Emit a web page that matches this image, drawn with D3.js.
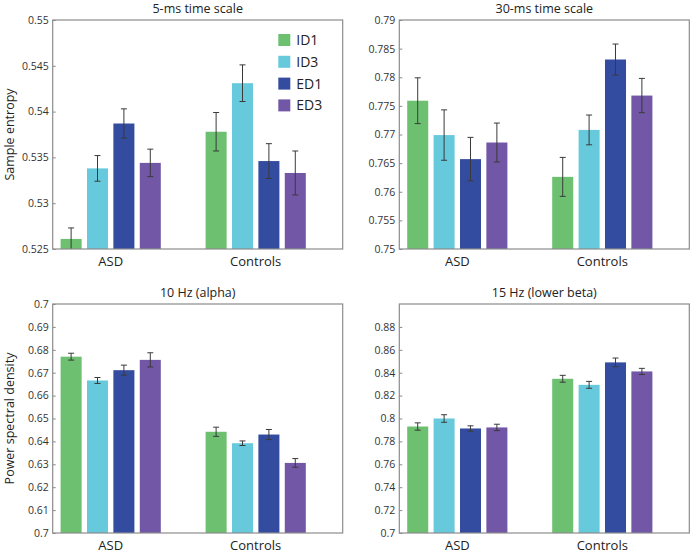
<!DOCTYPE html>
<html><head><meta charset="utf-8">
<script src="https://cdn.jsdelivr.net/npm/d3@7"></script>
<style>
body{margin:0;background:#fff;}
text{font-family:"Open Sans","Noto Sans",sans-serif;}
</style></head>
<body><svg id="chart" width="692" height="553"></svg>
<script>
const categories = ["ASD", "Controls"];
const series = ["ID1", "ID3", "ED1", "ED3"];
const colors = ["#6cc070", "#66c9dc", "#344ca0", "#7157a6"];

const entropy5 = [[0.5261, 0.5338, 0.5387, 0.5344], [0.5378, 0.5431, 0.5346, 0.5333]];
const entropy5Err = [[0.0012, 0.0014, 0.0016, 0.0015], [0.0021, 0.0020, 0.0019, 0.0024]];
const entropy30 = [[0.7759, 0.7699, 0.7657, 0.7686], [0.7626, 0.7708, 0.7831, 0.7768]];
const entropy30Err = [[0.0040, 0.0044, 0.0038, 0.0034], [0.0034, 0.0026, 0.0027, 0.0030]];
const psd10 = [[0.6770, 0.6666, 0.6711, 0.6756], [0.6442, 0.6392, 0.6430, 0.6306]];
const psd10Err = [[0.0015, 0.0013, 0.0022, 0.0031], [0.0020, 0.0010, 0.0022, 0.0019]];
const psd15 = [[0.7930, 0.8000, 0.7913, 0.7922], [0.8347, 0.8294, 0.8490, 0.8411]];
const psd15Err = [[0.0032, 0.0033, 0.0023, 0.0028], [0.0030, 0.0030, 0.0038, 0.0027]];

const ticks5 = [0.525, 0.53, 0.535, 0.54, 0.545, 0.55];
const tickLabels5 = ["0.525", "0.53", "0.535", "0.54", "0.545", "0.55"];
const ticks30 = [0.75, 0.755, 0.76, 0.765, 0.77, 0.775, 0.78, 0.785, 0.79];
const tickLabels30 = ["0.75", "0.755", "0.76", "0.765", "0.77", "0.775", "0.78", "0.785", "0.79"];
const ticks10 = [0.6, 0.61, 0.62, 0.63, 0.64, 0.65, 0.66, 0.67, 0.68, 0.69, 0.7];
const tickLabels10 = ["0.7", "0.61", "0.62", "0.63", "0.64", "0.65", "0.66", "0.67", "0.68", "0.69", "0.7"];
const ticks15 = [0.7, 0.72, 0.74, 0.76, 0.78, 0.8, 0.82, 0.84, 0.86, 0.88];
const tickLabels15 = ["0.7", "0.72", "0.74", "0.76", "0.78", "0.8", "0.82", "0.84", "0.86", "0.88"];

const panels = [
  {title: "5-ms time scale", ylabel: "Sample entropy", domain: [0.525, 0.55], values: entropy5, errs: entropy5Err, ticks: ticks5, labels: tickLabels5, left: 52.7, top: 20, legend: true},
  {title: "30-ms time scale", ylabel: null, domain: [0.75, 0.79], values: entropy30, errs: entropy30Err, ticks: ticks30, labels: tickLabels30, left: 399.3, top: 20},
  {title: "10 Hz (alpha)", ylabel: "Power spectral density", domain: [0.6, 0.7], values: psd10, errs: psd10Err, ticks: ticks10, labels: tickLabels10, left: 52.7, top: 304},
  {title: "15 Hz (lower beta)", ylabel: null, domain: [0.7, 0.9], values: psd15, errs: psd15Err, ticks: ticks15, labels: tickLabels15, left: 399.3, top: 304}
];
const W = 290, H = 229;
const svg = d3.select("#chart");

panels.forEach((p, pi) => {
  const g = svg.append("g").attr("transform", `translate(${p.left},${p.top})`);
  const x = d3.scaleLinear().domain([0.6, 2.6]).range([0, W]);
  const y = d3.scaleLinear().domain(p.domain).range([H, 0]);
  const step = 0.182, bw = 0.145;
  const clipId = "clip" + pi;
  g.append("clipPath").attr("id", clipId).append("rect").attr("width", W).attr("height", H);
  const plot = g.append("g").attr("clip-path", `url(#${clipId})`);

  const data = [];
  p.values.forEach((row, ci) => row.forEach((v, si) => data.push({ci, si, v, e: p.errs[ci][si]})));
  const cx = d => x(d.ci + 1 + (d.si - 1.5) * step);

  plot.selectAll("rect.bar").data(data).join("rect").attr("class", "bar")
    .attr("x", d => cx(d) - (x(bw) - x(0)) / 2)
    .attr("width", x(bw) - x(0))
    .attr("y", d => y(d.v))
    .attr("height", d => H - y(d.v))
    .attr("fill", d => colors[d.si]);

  const eb = plot.selectAll("g.eb").data(data).join("g").attr("class", "eb")
    .attr("stroke", "#3a3a3a").attr("stroke-width", 1);
  eb.append("line").attr("x1", cx).attr("x2", cx).attr("y1", d => y(d.v + d.e)).attr("y2", d => y(d.v - d.e));
  eb.append("line").attr("x1", d => cx(d) - 3).attr("x2", d => cx(d) + 3).attr("y1", d => y(d.v + d.e)).attr("y2", d => y(d.v + d.e));
  eb.append("line").attr("x1", d => cx(d) - 3).attr("x2", d => cx(d) + 3).attr("y1", d => y(d.v - d.e)).attr("y2", d => y(d.v - d.e));

  // y axis
  const axis = d3.axisLeft(y).tickValues(p.ticks).tickSize(-3).tickPadding(4)
    .tickFormat((d, i) => p.labels[i]);
  const ag = g.append("g").call(axis);
  ag.select(".domain").remove();
  ag.selectAll(".tick line").attr("stroke", "#888");
  ag.selectAll(".tick text").attr("fill", "#333").style("font-size", "10.5px")
    .style("font-family", '"Open Sans","Noto Sans",sans-serif');

  // frame
  g.append("rect").attr("width", W).attr("height", H).attr("fill", "none")
    .attr("stroke", "#8c8c8c").attr("stroke-width", 1.2);

  // category labels
  g.selectAll("text.cat").data(categories).join("text").attr("class", "cat")
    .attr("x", (d, i) => x(i + 1)).attr("y", H + 17)
    .attr("text-anchor", "middle").attr("fill", "#222").style("font-size", "13px").text(d => d);

  // title
  g.append("text").attr("x", W / 2).attr("y", -7).attr("text-anchor", "middle")
    .attr("fill", "#222").style("font-size", "12.5px").text(p.title);

  if (p.ylabel) {
    g.append("text").attr("transform", `translate(${-p.left + 14},${H / 2}) rotate(-90)`)
      .attr("text-anchor", "middle").attr("fill", "#222").style("font-size", "12.5px").text(p.ylabel);
  }

  if (p.legend) {
    const lg = g.append("g").attr("transform", `translate(${278.3 - p.left},${30 - p.top + 4})`);
    series.forEach((s, i) => {
      lg.append("rect").attr("x", 0).attr("y", i * 21.8).attr("width", 12).attr("height", 12).attr("fill", colors[i]);
      lg.append("text").attr("x", 18).attr("y", i * 21.8 + 11).attr("fill", "#222")
        .style("font-size", "14px").text(s);
    });
  }
});
</script></body></html>
